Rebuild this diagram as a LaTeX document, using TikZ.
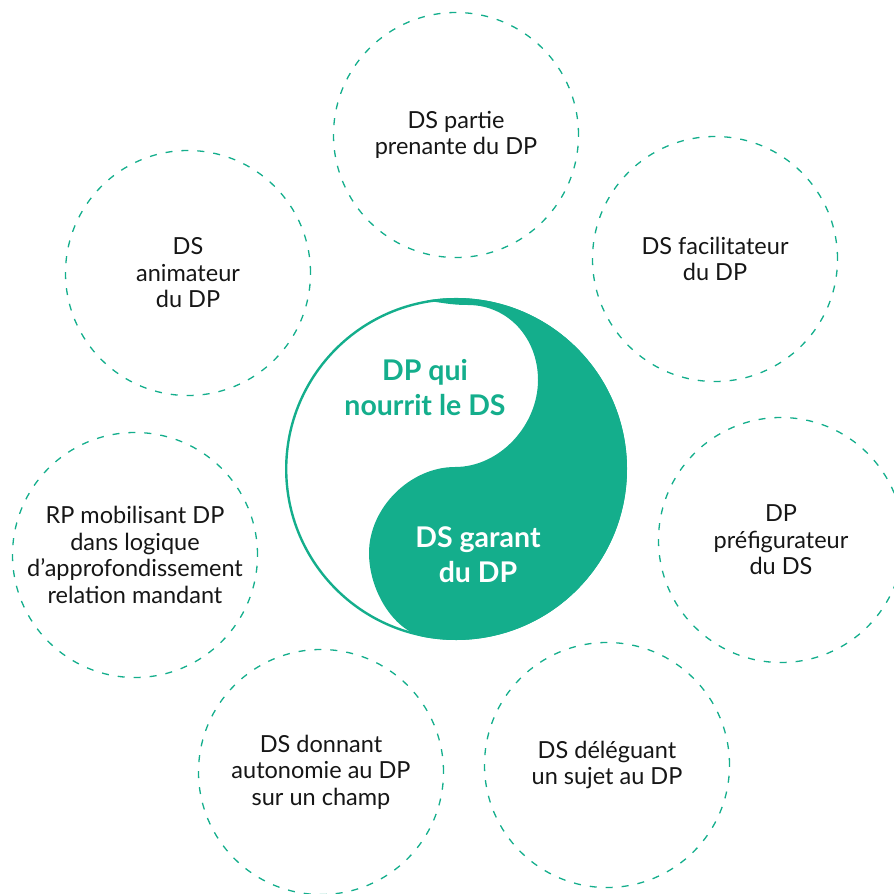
\documentclass[tikz,border=0pt]{standalone}
\usepackage{fontspec}
\setmainfont{Lato}
\usetikzlibrary{calc}
\definecolor{vert}{RGB}{20,174,140}
\definecolor{ink}{RGB}{22,22,22}
\begin{document}
\begin{tikzpicture}[x=1pt,y=-1pt,
  bubble/.style={circle, draw=vert, line width=1.3pt, dash pattern=on 7pt off 9pt,
    minimum size=245pt, inner sep=0pt, align=center, text=ink,
    font=\fontsize{23.5}{26.5}\selectfont},
  yylabel/.style={align=center, font=\bfseries\fontsize{28.5}{35}\selectfont}]
\useasboundingbox (0,0) rectangle (894,894);
\clip (0,0) rectangle (894,894);

% yin-yang
\coordinate (O) at (456,469);
\coordinate (T) at ($(O)+(-100:171)$);
\fill[vert] (T) arc[start angle=-100, end angle=101, radius=171]
  .. controls (393,630) and (369,590) .. (369,553)
  .. controls (369,508) and (410,467) .. (455,467)
  .. controls (500,467) and (538,425) .. (538,380)
  .. controls (538,338) and (508,305) .. (468,305)
  .. controls (450,305) and (438,302) .. (T) -- cycle;
\draw[vert, line width=2.4pt] (O) circle[radius=169.8];

\node[yylabel, text=vert] (top) at (425,388) {DP qui\\nourrit le DS};
\node[yylabel, text=white] (bot) at (478,555) {DS garant\\du DP};

% surrounding roles
\node[bubble] (n1) at (456,135) {DS partie\\prenante du DP};
\node[bubble] (n2) at (715,259) {DS facilitateur\\du DP};
\node[bubble] (n3) at (781,540) {DP\\préfigurateur\\du DS};
\node[bubble] (n4) at (607,765) {DS déléguant\\un sujet au DP};
\node[bubble] (n5) at (321,772) {DS donnant\\autonomie au DP\\sur un champ};
\node[bubble] (n6) at (135,555) {RP mobilisant DP\\dans logique\\d’approfondissement\\relation mandant};
\node[bubble] (n7) at (188,273) {DS\\animateur\\du DP};
\end{tikzpicture}
\end{document}
